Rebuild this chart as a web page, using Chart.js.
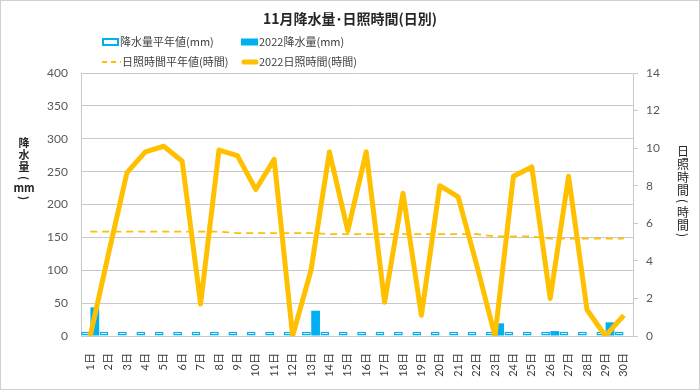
<!DOCTYPE html>
<html>
<head>
<meta charset="utf-8">
<script src="https://cdn.jsdelivr.net/npm/chart.js@4.4.1/dist/chart.umd.min.js"></script>
<style>
  html, body { margin: 0; padding: 0; background: #fff; }
</style>
</head>
<body>
<canvas id="myChart" width="700" height="390"></canvas>
<script>
const days = ['1日','2日','3日','4日','5日','6日','7日','8日','9日','10日',
  '11日','12日','13日','14日','15日','16日','17日','18日','19日','20日',
  '21日','22日','23日','24日','25日','26日','27日','28日','29日','30日'];

// 降水量 (mm)
const rainNormal = [6.5,6.5,6.5,6.5,6.5,6.5,6.5,6.5,6.5,6.5,
  6.5,6.5,6.5,6.5,6.5,6.5,6.5,6.5,6.5,6.5,
  6.5,6.5,6.5,6.5,6.5,6.5,6.5,6.5,6.5,6.5];
const rain2022 = [43.6,0,0,0,0,0,0,0,0,0,
  0,0,38.5,0,0,0,0,0,0,0,
  0,0,19.3,0,0,7.5,0,0,20.8,0];

// 日照時間 (時間)
const sunNormal = [5.55,5.55,5.55,5.55,5.55,5.55,5.55,5.55,5.48,5.48,
  5.48,5.48,5.48,5.42,5.42,5.42,5.42,5.42,5.42,5.42,
  5.42,5.42,5.3,5.3,5.3,5.18,5.18,5.18,5.18,5.18];
const sun2022 = [0,4.4,8.7,9.8,10.1,9.3,1.7,9.9,9.6,7.8,
  9.4,0,3.5,9.8,5.6,9.8,1.8,7.6,1.1,8.0,
  7.4,3.8,0,8.5,9.0,2.0,8.5,1.4,0,1.1];

const rainTicks = [0,50,100,150,200,250,300,350,400];
const sunTicks = [0,2,4,6,8,10,12,14];

const blue = '#00B0F0';
const orange = '#FFC000';
const gridGray = '#c9c9c9';
const cjk = "'Noto Sans CJK JP', sans-serif";

Chart.defaults.font.family = "Lato, 'Noto Sans CJK JP', sans-serif";
Chart.defaults.color = '#595959';

// stacked vertical text, parens turned sideways
function stackText(c, items, x) {
  items.forEach(([ch, y]) => {
    if (ch == '(' || ch == ')') {
      c.save();
      c.translate(x, y);
      c.rotate(Math.PI / 2);
      c.fillText(ch, 0, 0);
      c.restore();
    } else {
      c.fillText(ch, x, y);
    }
  });
}

// title, legend, axis titles and outer frame
const decor = {
  id: 'decor',
  beforeDraw(chart) {
    const c = chart.ctx;
    c.save();
    c.fillStyle = '#fff';
    c.fillRect(0, 0, chart.width, chart.height);
    c.strokeStyle = '#d0d0d0';
    c.lineWidth = 1;
    c.strokeRect(0.5, 0.5, chart.width - 1, chart.height - 1);
    c.restore();
  },
  afterDraw(chart) {
    const c = chart.ctx;
    c.save();
    c.fillStyle = '#262626';
    c.textAlign = 'center';
    c.textBaseline = 'middle';
    c.font = 'bold 14px ' + cjk;
    c.fillText('11月降水量･日照時間(日別)', 350, 19);

    // legend
    c.font = '11px ' + cjk;
    c.textAlign = 'left';
    c.strokeStyle = blue;
    c.lineWidth = 2;
    c.fillStyle = '#fff';
    c.fillRect(103, 39, 15, 6);
    c.strokeRect(103, 39, 15, 6);
    c.fillStyle = blue;
    c.fillRect(241, 38.5, 17, 7);
    c.fillStyle = '#404040';
    c.fillText('降水量平年値(mm)', 120, 42);
    c.fillText('2022降水量(mm)', 259, 42);

    c.strokeStyle = orange;
    c.lineWidth = 2;
    c.setLineDash([5, 4]);
    c.beginPath();
    c.moveTo(102, 62);
    c.lineTo(121, 62);
    c.stroke();
    c.setLineDash([]);
    c.lineWidth = 5;
    c.lineCap = 'round';
    c.beginPath();
    c.moveTo(244, 62);
    c.lineTo(256, 62);
    c.stroke();
    c.fillText('日照時間平年値(時間)', 122, 62);
    c.fillText('2022日照時間(時間)', 259, 62);

    // axis titles
    c.textAlign = 'center';
    c.fillStyle = '#262626';
    c.font = 'bold 11px ' + cjk;
    stackText(c, [['降', 143], ['水', 155], ['量', 167], ['(', 178], ['mm', 188], [')', 198]], 24);
    c.font = '12px ' + cjk;
    stackText(c, [['日', 151], ['照', 164], ['時', 177], ['間', 190], ['(', 201], ['時', 212], ['間', 225], [')', 235]], 683);
    c.restore();
  }
};

new Chart(document.getElementById('myChart'), {
  type: 'bar',
  data: {
    labels: days,
    datasets: [
      {
        type: 'line',
        label: '2022日照時間(時間)',
        data: sun2022,
        yAxisID: 'y1',
        borderColor: orange,
        borderWidth: 5,
        borderJoinStyle: 'round',
        pointRadius: 0,
        tension: 0,
        order: 0,
      },
      {
        type: 'line',
        label: '日照時間平年値(時間)',
        data: sunNormal,
        yAxisID: 'y1',
        borderColor: orange,
        borderWidth: 1.75,
        borderDash: [7, 5],
        pointRadius: 0,
        tension: 0,
        order: 1,
      },
      {
        label: '降水量平年値(mm)',
        data: rainNormal,
        yAxisID: 'y',
        backgroundColor: '#e6f7fd',
        borderColor: blue,
        borderWidth: 1.5,
        borderSkipped: false,
        barPercentage: 0.95,
        categoryPercentage: 1,
        order: 2,
      },
      {
        label: '2022降水量(mm)',
        data: rain2022,
        yAxisID: 'y',
        backgroundColor: blue,
        borderWidth: 0,
        barPercentage: 0.95,
        categoryPercentage: 1,
        order: 3,
      },
    ],
  },
  options: {
    responsive: false,
    animation: false,
    layout: {
      padding: { top: 73, left: 40, right: 27, bottom: 12 },
    },
    plugins: {
      legend: { display: false },
      title: { display: false },
      tooltip: { enabled: false },
    },
    scales: {
      x: {
        grid: { display: false },
        border: { display: false },
        ticks: {
          autoSkip: false,
          minRotation: 90,
          maxRotation: 90,
          padding: 9,
          color: '#404040',
          font: { size: 11 },
        },
        afterFit: (scale) => { scale.height = 42; },
      },
      y: {
        position: 'left',
        min: 0,
        max: 400,
        afterBuildTicks: (scale) => { scale.ticks = rainTicks.map((v) => ({ value: v })); },
        grid: { color: gridGray, drawTicks: false },
        border: { display: true, color: gridGray },
        ticks: { padding: 13, font: { size: 12 } },
        afterFit: (scale) => { scale.width = 41; },
      },
      y1: {
        position: 'right',
        min: 0,
        max: 14,
        afterBuildTicks: (scale) => { scale.ticks = sunTicks.map((v) => ({ value: v })); },
        grid: { drawOnChartArea: false, color: gridGray, tickLength: 5 },
        border: { display: true, color: gridGray },
        ticks: { padding: 8, font: { size: 12 } },
        afterFit: (scale) => { scale.width = 40; },
      },
    },
  },
  plugins: [decor],
});
</script>
</body>
</html>
